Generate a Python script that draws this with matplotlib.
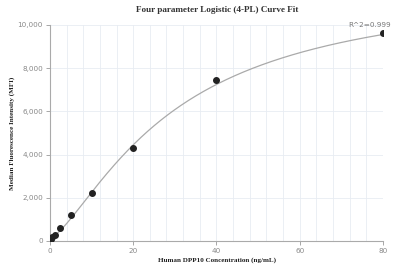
import numpy as np
import matplotlib
matplotlib.use("Agg")
import matplotlib.pyplot as plt

conc = [0.3125, 0.625, 1.25, 2.5, 5, 10, 20, 40, 80]
mfi = [70, 160, 280, 600, 1210, 2200, 4310, 7430, 9610]
# 4PL fit parameters (A bottom, B slope, C inflection, D top)
fit_A, fit_B, fit_C, fit_D = 123.0, 1.4, 29.5, 11893.0
r2_label = "R^2=0.999"
x_ticks = [0, 20, 40, 60, 80]
y_ticks = [0, 2000, 4000, 6000, 8000, 10000]

xs = np.linspace(min(conc), max(conc), 400)
ys = fit_D + (fit_A - fit_D) / (1 + (xs / fit_C) ** fit_B)

fig = plt.figure(figsize=(3.99, 2.71), dpi=100)
ax = fig.add_axes([0.125, 0.111, 0.835, 0.797])
ax.plot(xs, ys, color="#aaaaaa", lw=0.9, zorder=2)
ax.scatter(conc, mfi, s=16, color="#222222", zorder=3)

ax.set_xlim(0, 80)
ax.set_ylim(0, 10000)
ax.set_xticks(x_ticks)
ax.set_yticks(y_ticks)
ax.set_xticks(np.arange(0, 81, 4), minor=True)
ax.set_yticklabels([f"{v:,}" for v in y_ticks])
ax.grid(True, which="both", axis="x", color="#e8ecf2", lw=0.6)
ax.grid(True, which="major", axis="y", color="#e8ecf2", lw=0.6)
ax.tick_params(which="minor", length=0)
ax.tick_params(which="major", length=3, width=0.6, colors="#999999", labelsize=5.2, labelcolor="#888888", pad=2)
for s in ["top", "right"]:
    ax.spines[s].set_visible(False)
for s in ["left", "bottom"]:
    ax.spines[s].set_color("#aaaaaa")
    ax.spines[s].set_linewidth(0.8)
ax.set_axisbelow(True)

fig.text(217 / 399, 1 - 10 / 271, "Four parameter Logistic (4-PL) Curve Fit", fontfamily="Liberation Serif",
         fontweight="bold", fontsize=6.6, color="#333333", ha="center", va="center")
fig.text(217 / 399, 1 - 260 / 271, "Human DPP10 Concentration (ng/mL)", fontfamily="Liberation Serif",
         fontweight="bold", fontsize=5.1, color="#222222", ha="center", va="center")
fig.text(12 / 399, 1 - 133 / 271, "Median Fluorescence Intensity (MFI)", fontfamily="Liberation Serif",
         fontweight="bold", fontsize=5.1, color="#222222", ha="center", va="center", rotation=90)
ax.annotate(r2_label, xy=(conc[-1], mfi[-1]), xytext=(-10, 4), textcoords="offset points",
            ha="center", va="bottom", fontsize=5.2, color="#777777", annotation_clip=False)
fig.savefig("out.png", dpi=100)
